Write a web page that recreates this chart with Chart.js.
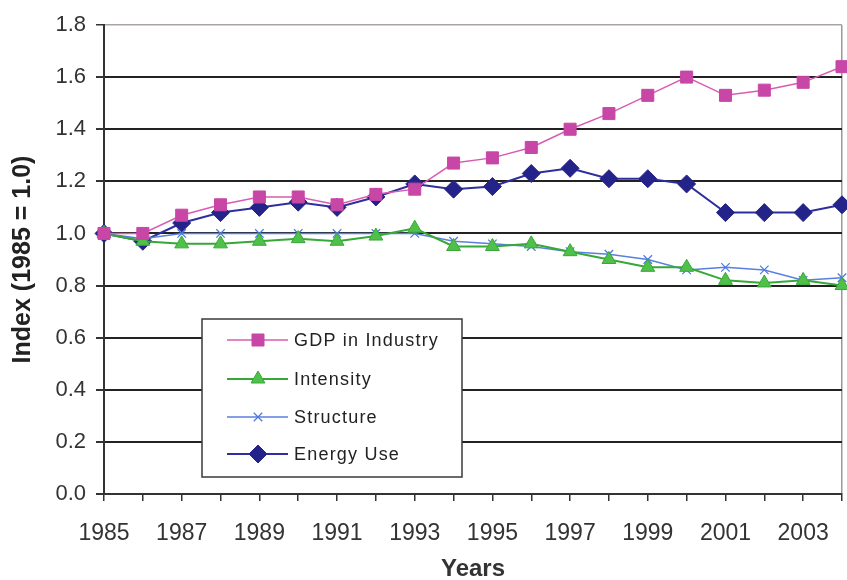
<!DOCTYPE html>
<html>
<head>
<meta charset="utf-8">
<script src="https://cdn.jsdelivr.net/npm/chart.js@4.4.1/dist/chart.umd.min.js"></script>
<style>
  html, body { margin: 0; padding: 0; background: #fff; }
  #wrap { width: 847px; height: 580px; position: relative; }
</style>
</head>
<body>
<div id="wrap"><canvas id="indexChart"></canvas></div>
<script>
const years = ['1985','1986','1987','1988','1989','1990','1991','1992','1993','1994',
               '1995','1996','1997','1998','1999','2000','2001','2002','2003','2004'];

const gdpIndustry = [1.00, 1.00, 1.07, 1.11, 1.14, 1.14, 1.11, 1.15, 1.17, 1.27,
                     1.29, 1.33, 1.40, 1.46, 1.53, 1.60, 1.53, 1.55, 1.58, 1.64];
const intensity   = [1.00, 0.97, 0.96, 0.96, 0.97, 0.98, 0.97, 0.99, 1.02, 0.95,
                     0.95, 0.96, 0.93, 0.90, 0.87, 0.87, 0.82, 0.81, 0.82, 0.80];
const structure   = [1.00, 0.98, 1.00, 1.00, 1.00, 1.00, 1.00, 1.00, 1.00, 0.97,
                     0.96, 0.95, 0.93, 0.92, 0.90, 0.86, 0.87, 0.86, 0.82, 0.83];
const energyUse   = [1.00, 0.97, 1.04, 1.08, 1.10, 1.12, 1.10, 1.14, 1.19, 1.17,
                     1.18, 1.23, 1.25, 1.21, 1.21, 1.19, 1.08, 1.08, 1.08, 1.11];

const yTicks = [0.0, 0.2, 0.4, 0.6, 0.8, 1.0, 1.2, 1.4, 1.6, 1.8];

const FONT = "'Liberation Sans', Arial, sans-serif";

// boxed legend sitting inside the plot area
const boxLegend = {
  id: 'boxLegend',
  afterDraw(chart) {
    const ctx = chart.ctx;
    const x0 = 202, y0 = 319, w = 260, h = 158;
    ctx.save();
    ctx.fillStyle = '#fff';
    ctx.fillRect(x0, y0, w, h);
    ctx.strokeStyle = '#3a3a3a';
    ctx.lineWidth = 1.5;
    ctx.strokeRect(x0, y0, w, h);

    const rowsY = [340, 379, 417, 454];
    chart.data.datasets.forEach((ds, i) => {
      const y = rowsY[i];
      ctx.strokeStyle = ds.borderColor;
      ctx.lineWidth = ds.borderWidth;
      ctx.beginPath();
      ctx.moveTo(227, y);
      ctx.lineTo(288, y);
      ctx.stroke();
      ctx.fillStyle = ds.pointBackgroundColor;
      ctx.strokeStyle = ds.pointBorderColor;
      ctx.lineWidth = ds.pointBorderWidth;
      Chart.helpers.drawPoint(ctx, {
        pointStyle: ds.pointStyle,
        radius: ds.pointRadius,
        borderWidth: ds.pointBorderWidth,
        rotation: 0
      }, 258, y);
      ctx.fillStyle = '#222';
      ctx.font = '18px ' + FONT;
      ctx.letterSpacing = '1.2px';
      ctx.textBaseline = 'middle';
      ctx.fillText(ds.label, 294, y + 1);
    });
    ctx.restore();
  }
};

new Chart(document.getElementById('indexChart'), {
  type: 'line',
  data: {
    labels: years,
    datasets: [
      {
        label: 'GDP in Industry',
        data: gdpIndustry,
        borderColor: '#d95bb3',
        borderWidth: 1.5,
        pointStyle: 'rect',
        pointRadius: 8.5,
        pointBackgroundColor: '#c846a6',
        pointBorderColor: '#c846a6',
        pointBorderWidth: 1
      },
      {
        label: 'Intensity',
        data: intensity,
        borderColor: '#36a836',
        borderWidth: 2,
        pointStyle: 'triangle',
        pointRadius: 8,
        pointBackgroundColor: '#4fc04a',
        pointBorderColor: '#3aa838',
        pointBorderWidth: 1
      },
      {
        label: 'Structure',
        data: structure,
        borderColor: '#5a7fe0',
        borderWidth: 1.5,
        pointStyle: 'crossRot',
        pointRadius: 6,
        pointBackgroundColor: '#4a78dc',
        pointBorderColor: '#4a78dc',
        pointBorderWidth: 1.2
      },
      {
        label: 'Energy Use',
        data: energyUse,
        borderColor: '#2e2e9e',
        borderWidth: 2,
        pointStyle: 'rectRot',
        pointRadius: 9,
        pointBackgroundColor: '#23238a',
        pointBorderColor: '#23238a',
        pointBorderWidth: 1
      }
    ]
  },
  options: {
    responsive: true,
    maintainAspectRatio: false,
    animation: false,
    events: [],
    layout: { autoPadding: false, padding: { top: 25, right: 5, left: 0, bottom: 0 } },
    plugins: {
      legend: { display: false },
      tooltip: { enabled: false }
    },
    scales: {
      x: {
        type: 'category',
        offset: false,
        border: { display: true, color: '#333', width: 2 },
        grid: {
          drawOnChartArea: true,
          color: c => c.index === years.length - 1 ? '#9c9896' : 'rgba(0,0,0,0)',
          tickColor: '#333',
          tickLength: 7,
          lineWidth: 1.5
        },
        ticks: {
          autoSkip: false,
          maxRotation: 0,
          minRotation: 0,
          padding: 19,
          color: '#333',
          font: { family: FONT, size: 23 },
          callback: function (val, i) { return i % 2 === 0 && i < years.length - 1 ? years[i] : ''; }
        },
        title: {
          display: true,
          text: 'Years',
          color: '#333',
          padding: { top: 0, bottom: -4 },
          font: { family: FONT, size: 24, weight: 'bold' }
        },
        afterFit: s => {
          s.height = 86;
          s.paddingLeft = 0;
          s.paddingRight = 0;
        }
      },
      y: {
        min: 0,
        max: 1.8,
        afterBuildTicks: s => { s.ticks = yTicks.map(v => ({ value: v })); },
        border: { display: true, color: '#333', width: 2 },
        grid: {
          color: c => c.tick && c.tick.value === 1.8 ? '#a9a4a2' : '#222',
          lineWidth: c => c.tick && c.tick.value === 1.8 ? 1.5 : 2,
          tickColor: '#333',
          tickLength: 8
        },
        ticks: {
          padding: 10,
          color: '#333',
          font: { family: FONT, size: 22 },
          callback: v => v.toFixed(1)
        },
        title: {
          display: true,
          text: 'Index (1985 = 1.0)',
          color: '#222',
          padding: { top: 8, bottom: 0 },
          font: { family: FONT, size: 25, weight: 'bold' }
        },
        afterFit: s => { s.width = 104; }
      }
    }
  },
  plugins: [boxLegend]
});
</script>
</body>
</html>
